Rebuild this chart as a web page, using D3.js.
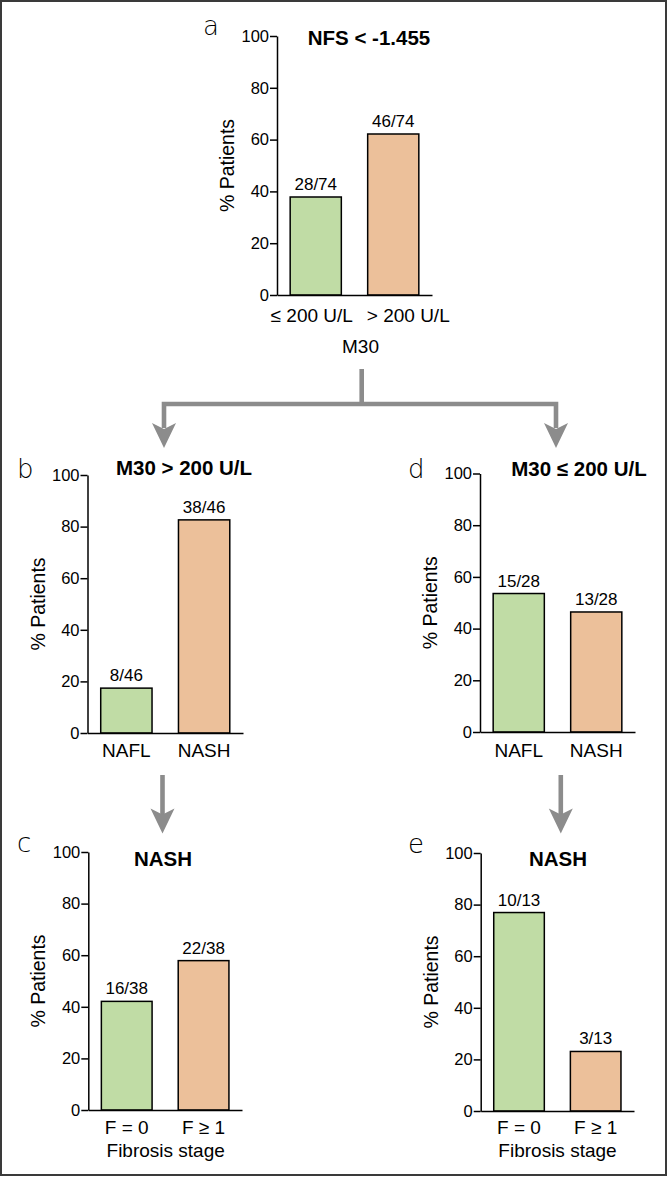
<!DOCTYPE html>
<html>
<head>
<meta charset="utf-8">
<script src="https://cdn.jsdelivr.net/npm/d3@7"></script>
<style>
  body { margin: 0; background: #fff; }
  text { font-family: "Liberation Sans", Arial, sans-serif; fill: #000; }
  .letter { font-family: "DejaVu Sans", sans-serif; font-weight: 200; font-size: 26px; }
</style>
</head>
<body>
<div id="chart"></div>
<script>
// panel data
var panelIds = ["a", "b", "d", "c", "e"];
var panelTitles = ["NFS < -1.455", "M30 > 200 U/L", "M30 \u2264 200 U/L", "NASH", "NASH"];
var categoriesM30 = ["\u2264 200 U/L", "> 200 U/L"];
var categoriesHisto = ["NAFL", "NASH"];
var categoriesFib = ["F = 0", "F \u2265 1"];
var countsA = [28, 46], totalA = 74;
var countsB = [8, 38], totalB = 46;
var countsD = [15, 13], totalD = 28;
var countsC = [16, 22], totalC = 38;
var countsE = [10, 3], totalE = 13;
var yTicks = [0, 20, 40, 60, 80, 100];
var xTitles = {a: "M30", c: "Fibrosis stage", e: "Fibrosis stage"};

var panelData = {
    a: {cats: categoriesM30, counts: countsA, total: totalA},
    b: {cats: categoriesHisto, counts: countsB, total: totalB},
    d: {cats: categoriesHisto, counts: countsD, total: totalD},
    c: {cats: categoriesFib, counts: countsC, total: totalC},
    e: {cats: categoriesFib, counts: countsE, total: totalE}
};

var colors = ["#c0dca5", "#ecc09a"];
var arrowColor = "#8c8c8c";

// where each panel sits on the page
var layout = {
    a: {x0: 277, x1: 432, yTop: 36, yBot: 295, titleX: 369, titleY: 45, letterX: 203, letterY: 35, catY: 322, catDx: [-4, 15], xTitleX: 360.5, xTitleY: 353},
    b: {x0: 87.5, x1: 243, yTop: 475, yBot: 733, titleX: 184, titleY: 475, letterX: 17, letterY: 478, catY: 757, catDx: [0, 0]},
    d: {x0: 480, x1: 635, yTop: 473.5, yBot: 732, titleX: 579, titleY: 476, letterX: 408, letterY: 478, catY: 757, catDx: [0, 0]},
    c: {x0: 88.3, x1: 242, yTop: 852, yBot: 1110, titleX: 163, titleY: 866, letterX: 17, letterY: 852, catY: 1134, catDx: [0, 0], xTitleX: 165.7, xTitleY: 1157},
    e: {x0: 480.7, x1: 634, yTop: 853, yBot: 1111, titleX: 558, titleY: 866, letterX: 408, letterY: 853, catY: 1134, catDx: [0, 0], xTitleX: 557.5, xTitleY: 1157}
};

var svgWidth = 668;
var svgHeight = 1180;

var svg = d3.select("#chart")
    .append("svg")
    .attr("width", svgWidth)
    .attr("height", svgHeight);

// frame
svg.append("rect")
    .attr("x", 1)
    .attr("y", 1)
    .attr("width", 665)
    .attr("height", 1174)
    .attr("fill", "none")
    .attr("stroke", "#3a3a3a")
    .attr("stroke-width", 2);

panelIds.forEach(function(id, i) {
    var L = layout[id];
    var D = panelData[id];
    var values = D.counts.map(function(n) { return n / D.total * 100; });

    var g = svg.append("g");

    var xScale = d3.scaleBand()
        .domain(D.cats)
        .range([L.x0, L.x1])
        .paddingInner(0.34)
        .paddingOuter(0.17);

    var yScale = d3.scaleLinear()
        .domain([0, 100])
        .range([L.yBot, L.yTop]);

    // bars
    g.selectAll("rect.bar")
        .data(values)
        .enter()
        .append("rect")
        .attr("class", "bar")
        .attr("x", function(d, j) { return xScale(D.cats[j]); })
        .attr("y", function(d) { return yScale(d); })
        .attr("width", xScale.bandwidth())
        .attr("height", function(d) { return yScale(0) - yScale(d); })
        .attr("fill", function(d, j) { return colors[j]; })
        .attr("stroke", "#000")
        .attr("stroke-width", 1.5);

    // n/N labels
    g.selectAll("text.val")
        .data(values)
        .enter()
        .append("text")
        .attr("class", "val")
        .attr("x", function(d, j) { return xScale(D.cats[j]) + xScale.bandwidth() / 2; })
        .attr("y", function(d) { return yScale(d) - 7; })
        .attr("text-anchor", "middle")
        .attr("font-size", "17px")
        .text(function(d, j) { return D.counts[j] + "/" + D.total; });

    // y axis
    var leftAxis = d3.axisLeft(yScale)
        .tickValues(yTicks)
        .tickSize(7)
        .tickSizeOuter(0)
        .tickPadding(1);

    var yAxisG = g.append("g")
        .attr("transform", "translate(" + L.x0 + ",0)")
        .call(leftAxis);
    yAxisG.selectAll("path, line").attr("stroke", "#000").attr("stroke-width", 1.5);
    yAxisG.selectAll("text")
        .attr("font-size", "16.5px")
        .attr("font-family", "Liberation Sans, Arial, sans-serif")
        .attr("fill", "#000");

    // x axis
    var bottomAxis = d3.axisBottom(xScale)
        .tickSize(0)
        .tickSizeOuter(0)
        .tickFormat("");
    var xAxisG = g.append("g")
        .attr("transform", "translate(0," + L.yBot + ")")
        .call(bottomAxis);
    xAxisG.select("path").attr("stroke", "#000").attr("stroke-width", 1.5);

    g.selectAll("text.cat")
        .data(D.cats)
        .enter()
        .append("text")
        .attr("class", "cat")
        .attr("x", function(d, j) { return xScale(d) + xScale.bandwidth() / 2 + L.catDx[j]; })
        .attr("y", L.catY)
        .attr("text-anchor", "middle")
        .attr("font-size", "19px")
        .text(function(d) { return d; });

    // y title
    g.append("text")
        .attr("transform", "rotate(-90)")
        .attr("x", -(L.yTop + L.yBot) / 2)
        .attr("y", L.x0 - 43)
        .attr("text-anchor", "middle")
        .attr("font-size", "19.5px")
        .text("% Patients");

    // panel title
    g.append("text")
        .attr("x", L.titleX)
        .attr("y", L.titleY)
        .attr("text-anchor", "middle")
        .attr("font-size", "20.5px")
        .attr("font-weight", "bold")
        .text(panelTitles[i]);

    // panel letter
    g.append("text")
        .attr("class", "letter")
        .attr("x", L.letterX)
        .attr("y", L.letterY)
        .text(id);

    if (xTitles[id]) {
        g.append("text")
            .attr("x", L.xTitleX)
            .attr("y", L.xTitleY)
            .attr("text-anchor", "middle")
            .attr("font-size", "19px")
            .text(xTitles[id]);
    }
});

// arrows
var arrows = svg.append("g")
    .attr("stroke", arrowColor)
    .attr("fill", "none")
    .attr("stroke-width", 4.6);

// split from M30
arrows.append("path")
    .attr("d", "M361.7,369 V404 M164,404 H556 M164,401.7 V428 M556,401.7 V428");
arrows.append("path")
    .attr("d", "M162.5,775 V815 M560.8,775 V815");

function arrowHead(x, y) {
    svg.append("path")
        .attr("d", "M" + x + "," + y + " l-12,-25 l12,6 l12,-6 z")
        .attr("fill", arrowColor);
}
arrowHead(164, 448);
arrowHead(556, 448);
arrowHead(162.5, 833.5);
arrowHead(560.8, 833.5);
</script>
</body>
</html>
